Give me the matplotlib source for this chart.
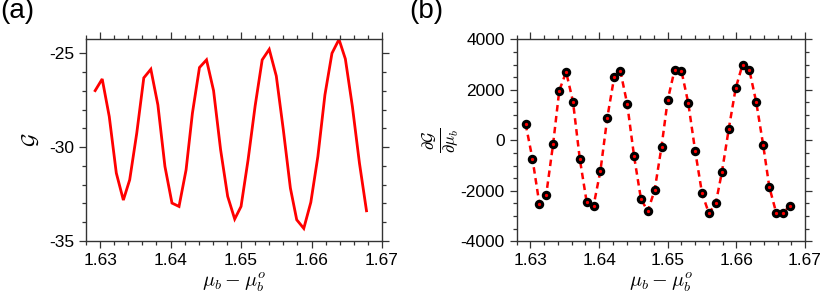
import matplotlib
matplotlib.use("Agg")
import matplotlib.pyplot as plt
from matplotlib.ticker import MultipleLocator

plt.rcParams['font.family'] = ['Liberation Sans', 'DejaVu Sans']
plt.rcParams['mathtext.fontset'] = 'cm'

# ---- data ----
x_vals = [1.6293, 1.6303, 1.6313, 1.6323, 1.6333, 1.6342, 1.6352, 1.6362, 1.6372, 1.6382,
          1.6392, 1.6402, 1.6412, 1.6422, 1.6431, 1.6441, 1.6451, 1.6461, 1.6471, 1.6481,
          1.6491, 1.6500, 1.6510, 1.6520, 1.6530, 1.6540, 1.6550, 1.6560, 1.6570, 1.6579,
          1.6589, 1.6599, 1.6609, 1.6619, 1.6629, 1.6639, 1.6648, 1.6658, 1.6668, 1.6678]

g_vals = [-26.99, -26.37, -28.37, -31.38, -32.82, -31.74, -29.26, -26.31, -25.85, -27.75,
          -31.03, -32.98, -33.16, -31.21, -28.19, -25.76, -25.35, -26.99, -30.14, -32.62,
          -33.83, -33.16, -30.67, -27.80, -25.35, -24.79, -26.21, -29.08, -32.18, -33.87,
          -34.33, -32.94, -30.50, -27.22, -25.00, -24.26, -25.30, -27.84, -30.85, -33.39]

dg_vals = [647, -739, -2508, -2152, -158, 1967, 2706, 1531, -752, -2455,
           -2587, -1201, 898, 2495, 2746, 1439, -634, -2323, -2812, -1967,
           -251, 1597, 2785, 2746, 1465, -422, -2099, -2891, -2495, -1254,
           462, 2059, 2997, 2772, 1505, -172, -1848, -2865, -2865, -2601]

xticks = [1.63, 1.64, 1.65, 1.66, 1.67]
xticklabels = ['1.63', '1.64', '1.65', '1.66', '1.67']
yticks_a = [-35, -30, -25]
yticklabels_a = ['-35', '-30', '-25']
yticks_b = [-4000, -2000, 0, 2000, 4000]
yticklabels_b = ['-4000', '-2000', '0', '2000', '4000']

fig = plt.figure(figsize=(8.3, 3.03), dpi=100)
ax1 = fig.add_axes([86/830, 1-241/303, 296/830, 202/303])
ax2 = fig.add_axes([516.7/830, 1-241.3/303, 288.3/830, 202/303])

def style(ax):
    for s in ax.spines.values():
        s.set_linewidth(1.0)
        s.set_color('#333333')
    ax.tick_params(which='both', direction='out', top=True, right=True,
                   labeltop=False, labelright=False, color='#333333',
                   labelsize=12.5, width=0.9)
    ax.tick_params(which='major', length=5, pad=3.5)
    ax.tick_params(which='minor', length=2.8)
    ax.xaxis.set_minor_locator(MultipleLocator(0.002))
    ax.set_xlim(1.628, 1.67)
    ax.set_xticks(xticks)
    ax.set_xticklabels(xticklabels)
    ax.set_xlabel(r'$\mu_b - \mu_b^o$', fontsize=14.5, labelpad=2)

# (a)
ax1.plot(x_vals, g_vals, color='#ff0000', lw=2.0, solid_joinstyle='miter')
style(ax1)
ax1.set_ylim(-35, -24.24)
ax1.set_yticks(yticks_a)
ax1.set_yticklabels(yticklabels_a)
ax1.yaxis.set_minor_locator(MultipleLocator(1))
ax1.set_ylabel(r'$\mathcal{G}$', fontsize=15, labelpad=6)

# (b)
ax2.plot(x_vals, dg_vals, color='#ff0000', lw=1.8, linestyle=(0, (2.6, 1.8)),
         marker='o', markersize=4.6, markerfacecolor='#ff0000',
         markeredgecolor='black', markeredgewidth=2.2)
style(ax2)
ax2.set_ylim(-4000, 4000)
ax2.set_yticks(yticks_b)
ax2.set_yticklabels(yticklabels_b)
ax2.yaxis.set_minor_locator(MultipleLocator(500))
ax2.set_ylabel(r'$\frac{\partial \mathcal{G}}{\partial \mu_b}$', fontsize=17, labelpad=0)

fig.text(0.0, 1.005, '(a)', fontsize=20, ha='left', va='top')
fig.text(409/830, 1.005, '(b)', fontsize=20, ha='left', va='top')

fig.savefig('out.png', dpi=100)
